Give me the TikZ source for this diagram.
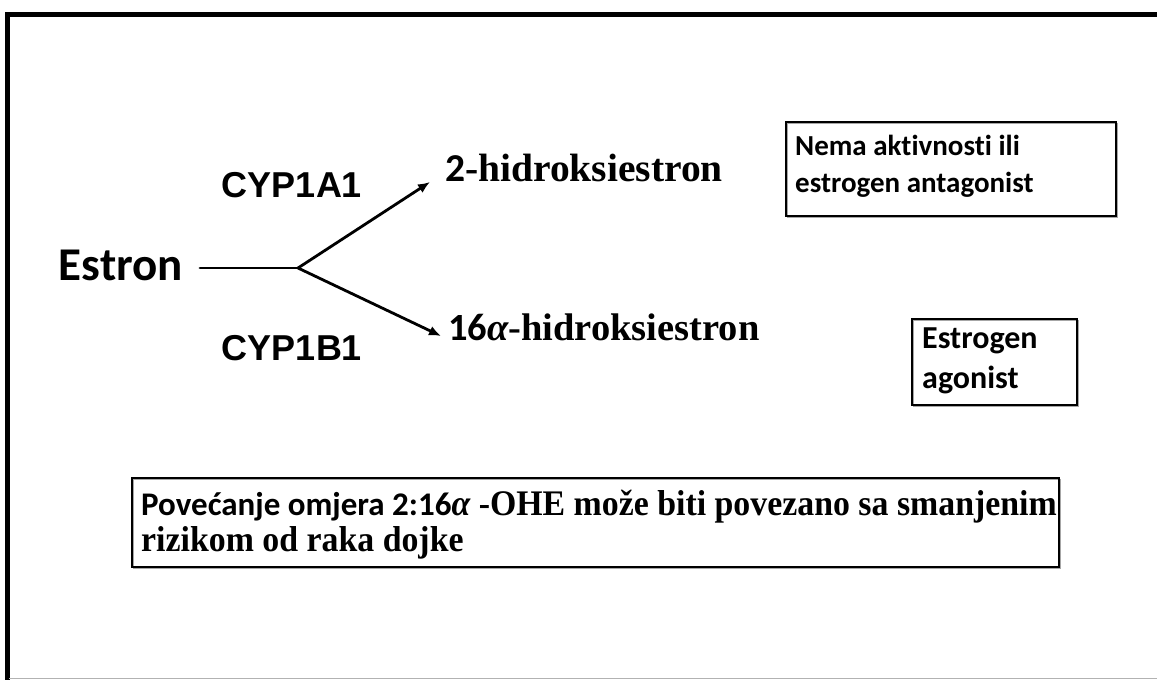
\documentclass[tikz,border=0pt]{standalone}
\usepackage{fontspec}
\setmainfont{Liberation Serif}
\newfontfamily\carl[Ligatures=NoCommon]{Carlito}
\newfontfamily\ari{Liberation Sans}
\newfontfamily\tnr[FakeStretch=0.94]{Liberation Serif}
\usetikzlibrary{arrows.meta}
\begin{document}
\begin{tikzpicture}[x=1pt,y=-1pt,
  lbl/.style={inner sep=0pt},
  infobox/.style={draw=black,line width=1.2pt,inner sep=0pt,
     preaction={draw=gray!70,line width=1.6pt,transform canvas={shift={(1.5pt,-1.5pt)}}}},
  conn/.style={line width=2.8pt,line cap=round},
  arr/.style={conn,-{Latex[length=12pt,width=10pt]}}]
\useasboundingbox (0,0) rectangle (1157,680);
\fill[white] (0,0) rectangle (1157,680);
% outer frame
\draw[line width=5pt] (7,680) -- (7,14) -- (1157,14);
\draw[gray!60,line width=1.5pt] (9,678.5) -- (1157,678.5);
% main texts
\node[lbl,font=\carl\bfseries\fontsize{47}{52}\selectfont] (estron) at (121,265) {Estron};
\node[lbl,font=\ari\bfseries\fontsize{36}{40}\selectfont] (cypa) at (292,185) {CYP1A1};
\node[lbl,font=\ari\bfseries\fontsize{36}{40}\selectfont] (cypb) at (292,348) {CYP1B1};
\node[lbl,anchor=west,font=\bfseries\fontsize{39.5}{44}\selectfont] (hyd2) at (445,168) {{\carl 2}-hidroksiestron};
\node[lbl,anchor=west,font=\bfseries\fontsize{38.5}{44}\selectfont] (hyd16) at (448,327) {{\carl 16}{\itshape α}-hidroksiestron};
% connectors
\coordinate (fork) at (298,268);
\coordinate (t1) at (430,182);
\coordinate (t2) at (441,336);
\draw[conn] (200,268) -- (fork);
\draw[arr] (fork) -- (t1);
\draw[arr] (fork) -- (t2);
% boxes
\draw[infobox] (786,122) rectangle (1116,216);
\node[lbl,anchor=north west,align=left,font=\carl\bfseries\fontsize{29}{37}\selectfont] (b1) at (795,135)
  {Nema aktivnosti ili\\estrogen antagonist};
\draw[infobox] (912,319) rectangle (1077,405);
\node[lbl,anchor=north west,align=left,font=\carl\bfseries\fontsize{32}{40}\selectfont] (b2) at (922,328)
  {Estrogen\\agonist};
\draw[infobox] (132,478) rectangle (1059,567);
\node[lbl,anchor=north west,align=left,font=\tnr\bfseries\fontsize{36}{36}\selectfont] (b3) at (141,490)
  {{\carl\fontsize{33}{36}\selectfont Povećanje omjera 2:16}{\itshape α} -OHE može biti povezano sa smanjenim\\rizikom od raka dojke};
\end{tikzpicture}
\end{document}
